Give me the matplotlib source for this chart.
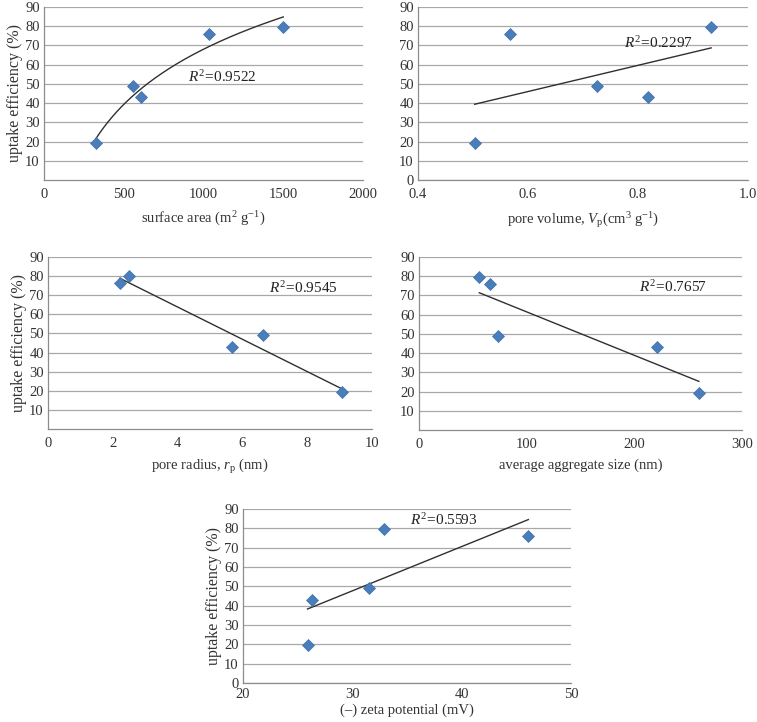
#import libraries
import numpy as np
import matplotlib
matplotlib.use('Agg')
import matplotlib.pyplot as plt

plt.rcParams['font.family'] = ['Liberation Serif', 'DejaVu Serif']
plt.rcParams['mathtext.fontset'] = 'custom'
plt.rcParams['mathtext.rm'] = 'Liberation Serif'
plt.rcParams['mathtext.it'] = 'Liberation Serif:italic'

#Data Definition (five samples, same uptake in every panel)
uptake = [19.4, 49.0, 43.0, 76.2, 79.8]
surface_area = [326, 560, 610, 1034, 1500]
pore_volume = [0.503, 0.725, 0.818, 0.568, 0.933]
pore_radius = [9.06, 6.65, 5.69, 2.22, 2.51]
aggregate_size = [260, 73.6, 220.7, 66, 56]
zeta = [25.9, 31.5, 26.3, 46.1, 32.9]

r2_labels = ['0.9522', '0.2297', '0.9545', '0.7657', '0.5593']
xlabels = [r'surface area (m$^{2}$ g$^{-1}$)',
           r'pore volume, $V_{\mathrm{p}}$(cm$^{3}$ g$^{-1}$)',
           r'pore radius, $r_{\mathrm{p}}$ (nm)',
           'average aggregate size (nm)',
           '(\u2013) zeta potential (mV)']

#Create Figure
W, H = 757, 722
fig = plt.figure(figsize=(W / 100, H / 100), dpi=100)

def box(l, r, t, b):
    return [l / W, 1 - b / H, (r - l) / W, (b - t) / H]

panels = [
    dict(x=surface_area, pos=box(44, 363, 7, 180), xlim=(0, 2000), xt=[0, 500, 1000, 1500, 2000],
         fmt='{:.0f}', fit='log', txt=(903, 53.5), zero=False, ylab=True, tpad=6, lpad=6),
    dict(x=pore_volume, pos=box(418, 748, 7, 180), xlim=(0.4, 1.0), xt=[0.4, 0.6, 0.8, 1.0],
         fmt='{:.1f}', fit='lin', txt=(0.774, 71.3), zero=True, ylab=False, tpad=6, lpad=6),
    dict(x=pore_radius, pos=box(48, 372, 257, 429), xlim=(0, 10), xt=[0, 2, 4, 6, 8, 10],
         fmt='{:.0f}', fit='lin', txt=(6.82, 73.8), zero=False, ylab=True, tpad=6, lpad=5),
    dict(x=aggregate_size, pos=box(419, 742, 257, 430), xlim=(0, 300), xt=[0, 100, 200, 300],
         fmt='{:.0f}', fit='lin', txt=(204, 74.6), zero=False, ylab=False, tpad=6, lpad=5),
    dict(x=zeta, pos=box(243, 571, 509, 683), xlim=(20, 50), xt=[20, 30, 40, 50],
         fmt='{:.0f}', fit='lin', txt=(35.3, 84.5), zero=True, ylab=True, tpad=3.5, lpad=1.8),
]

for i, p in enumerate(panels):
    ax = fig.add_axes(p['pos'])
    xs = np.array(p['x'], dtype=float)
    ys = np.array(uptake)

    #trendline
    xx = np.linspace(xs.min(), xs.max(), 200)
    if p['fit'] == 'log':
        a, b = np.polyfit(np.log(xs), ys, 1)
        yy = a * np.log(xx) + b
    else:
        a, b = np.polyfit(xs, ys, 1)
        yy = a * xx + b
    ax.plot(xx, yy, color='#303030', lw=1.0, zorder=3)
    ax.plot(xs, ys, 'D', color='#4A7EBB', markersize=6.5, markeredgecolor='#3F6FA8',
            markeredgewidth=0.5, zorder=4)

    ax.text(p['txt'][0], p['txt'][1], r'$R^{2}\!=\!$' + r2_labels[i], fontsize=11,
            va='center', ha='left', color='#222222')

    #Modify appearance
    ax.set_xlim(*p['xlim'])
    ax.set_ylim(0, 90)
    ax.set_xticks(p['xt'])
    ax.set_xticklabels([p['fmt'].format(v) for v in p['xt']])
    yt = list(range(0, 91, 10)) if p['zero'] else list(range(10, 91, 10))
    ax.set_yticks(yt)
    ax.yaxis.grid(True, color='#A8A8A8', lw=0.9)
    ax.set_axisbelow(True)
    for s in ['top', 'right']:
        ax.spines[s].set_visible(False)
    for s in ['left', 'bottom']:
        ax.spines[s].set_color('#8C8C8C')
        ax.spines[s].set_linewidth(0.9)
    ax.tick_params(length=0, labelsize=10.5, colors='#333333')
    ax.tick_params(axis='x', pad=p['tpad'])
    ax.tick_params(axis='y', pad=3)
    ax.set_xlabel(xlabels[i], fontsize=10.5, color='#333333', labelpad=p['lpad'])
    if p['ylab']:
        ax.set_ylabel('uptake efficiency (%)', fontsize=11.5, color='#333333', labelpad=1.5)

#Save Plot
plt.savefig('out.png', dpi=100)
